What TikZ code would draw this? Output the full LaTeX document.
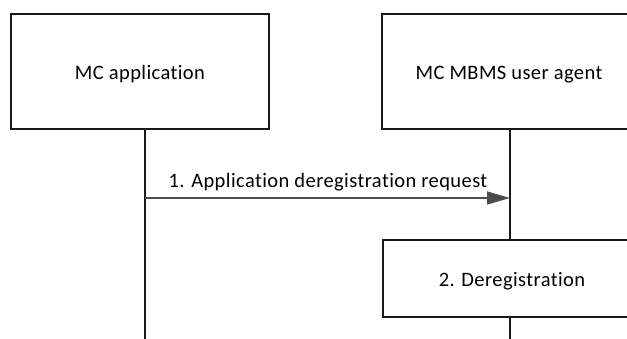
\documentclass[tikz,border=0pt]{standalone}
\usepackage{fontspec}
\setmainfont{Carlito}[Ligatures={NoCommon,NoContextual},LetterSpace=2]
\usetikzlibrary{arrows.meta}
\begin{document}
\begin{tikzpicture}[x=1pt,y=-1pt,
  box/.style={draw=black!90, line width=1.2pt, fill=white, font=\fontsize{20.5}{24}\selectfont, inner sep=0pt, text height=15.5pt, text depth=0pt},
  life/.style={draw=black!90, line width=1.2pt},
  msg/.style={draw=black!70, line width=1.2pt, -{Triangle[length=23pt,width=13pt,fill=black!70]}},
  lbl/.style={font=\fontsize{20.5}{24}\selectfont, inner sep=0pt}]
\useasboundingbox (0,0) rectangle (627,338);
\clip (0,0) rectangle (627,338);
\coordinate (a1) at (145,198);
\coordinate (a2) at (510,198);
\coordinate (l1bot) at (145,340);
\coordinate (l2bot) at (510,340);
\node[box, minimum width=258pt, minimum height=115pt] (app) at (140,71.5) {MC application};
\node[box, minimum width=254pt, minimum height=115pt] (ua) at (509,71.5) {MC MBMS user agent};
\node[box, minimum width=258pt, minimum height=77pt] (dereg) at (512,278.5) {2. Deregistration};
\draw[life] (app.south -| a1) -- (l1bot);
\draw[life] (ua.south -| a2) -- (dereg.north -| a2);
\draw[life] (dereg.south -| a2) -- (l2bot);
\draw[msg] (a1) -- (a2);
\node[lbl] (m1) at (328,182) {1. Application deregistration request};
\end{tikzpicture}
\end{document}
